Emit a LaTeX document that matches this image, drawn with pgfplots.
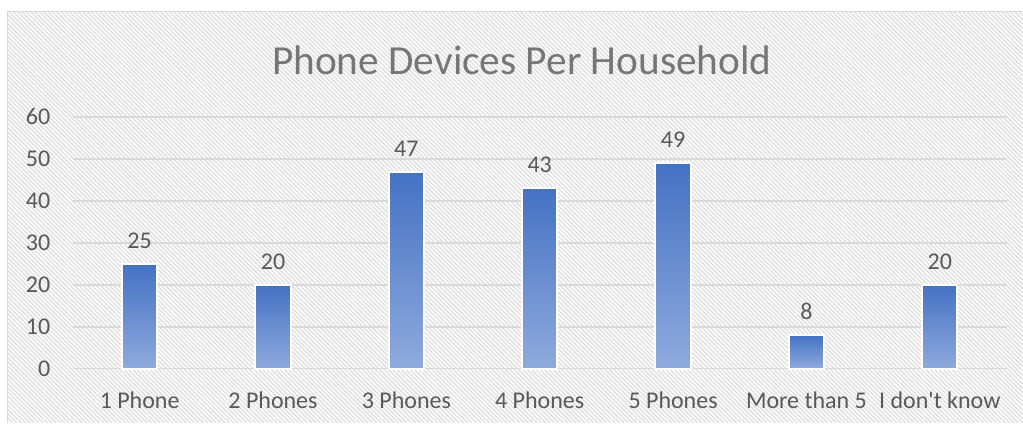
\documentclass[border=0pt]{standalone}
\usepackage{pgfplots}
\pgfplotsset{compat=1.18}
\usepackage{fontspec}
\setmainfont{Carlito}[Ligatures=TeXOff]
\usetikzlibrary{patterns.meta}
\definecolor{barTop}{RGB}{68,114,196}
\definecolor{barBot}{RGB}{143,170,220}
\definecolor{txt}{RGB}{89,89,89}
\definecolor{ttl}{RGB}{118,118,118}
\definecolor{gridc}{RGB}{217,217,217}
\definecolor{hatch}{RGB}{222,222,222}
\pgfplotsset{onebar/.style={ybar, bar width=26.5pt, draw=white, line width=1.5pt,
  top color=barTop, bottom color=barBot, bar shift=0pt,
  nodes near coords,
  nodes near coords style={font=\fontsize{18}{20}\selectfont, text=txt, yshift=7.5pt}}}
\begin{document}
\begin{tikzpicture}
\begin{scope}[x=0.75pt,y=0.75pt]
\fill[white] (0,0) rectangle (1023,423);
\fill[pattern={Lines[angle=-45, distance=2.3pt, line width=1pt]}, pattern color=hatch] (8,0) rectangle (1023,411);
\draw[gridc, line width=0.75pt] (8,0) -- (8,411) -- (1023,411);
\node[font=\fontsize{31}{34}\selectfont, text=ttl] at (522,363) {Phone Devices Per Household};
\end{scope}
\begin{axis}[at={(54.75pt,40.5pt)}, anchor=south west, scale only axis,
  width=700.5pt, height=189pt,
  xmin=-0.5, xmax=6.5, ymin=0, ymax=60,
  ytick={0,10,...,60}, xtick={0,...,6},
  xticklabels={1 Phone,2 Phones,3 Phones,4 Phones,5 Phones,More than 5,I don't know},
  ymajorgrids, grid style={gridc, line width=1pt},
  axis line style={draw=none}, major tick length=0pt,
  tick label style={font=\fontsize{18}{20}\selectfont, text=txt},
  xticklabel style={yshift=-14pt},
  yticklabel style={xshift=-13.5pt},
  /pgf/number format/assume math mode=true,
  clip=false,
]
\addplot[onebar] coordinates {(0,25)};
\addplot[onebar] coordinates {(1,20)};
\addplot[onebar] coordinates {(2,47)};
\addplot[onebar] coordinates {(3,43)};
\addplot[onebar] coordinates {(4,49)};
\addplot[onebar] coordinates {(5,8)};
\addplot[onebar] coordinates {(6,20)};
\end{axis}
\end{tikzpicture}
\end{document}
